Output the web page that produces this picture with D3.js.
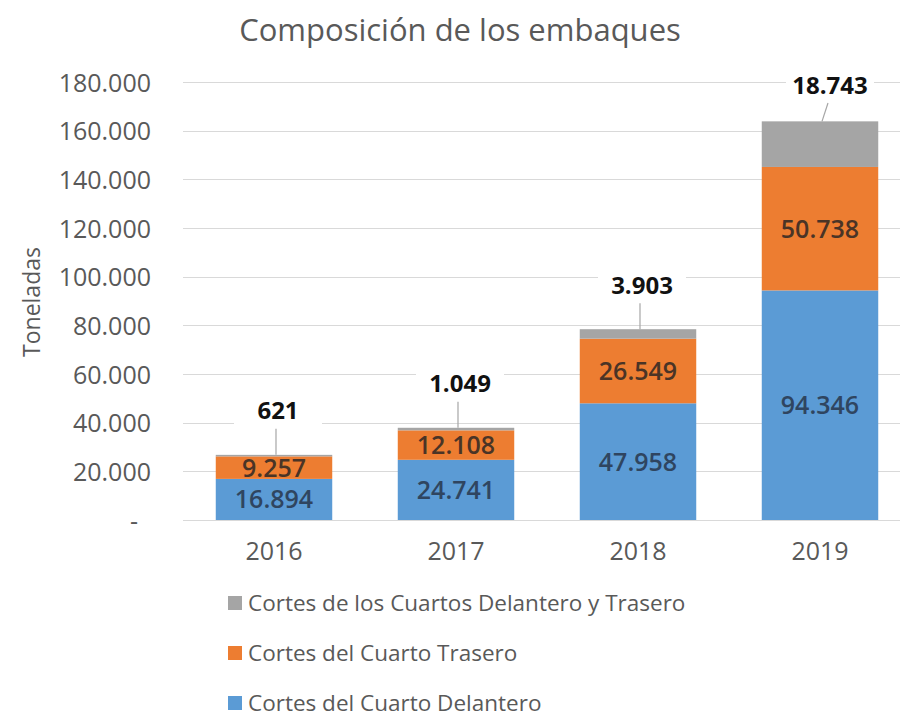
<!DOCTYPE html>
<html>
<head>
<meta charset="utf-8">
<script src="https://cdn.jsdelivr.net/npm/d3@7"></script>
<style>
  body { margin: 0; background: #fff; }
  svg { font-family: "Open Sans", sans-serif; display: block; }
</style>
</head>
<body>
<svg id="chart" width="900" height="721"></svg>
<script>
/* ── Data ───────────────────────────────────────────── */
const years      = ['2016', '2017', '2018', '2019'];
const delantero  = [16894, 24741, 47958, 94346];
const trasero    = [9257, 12108, 26549, 50738];
const ambos      = [621, 1049, 3903, 18743];
const seriesKeys = ['delantero', 'trasero', 'ambos'];
const seriesNames = ['Cortes del Cuarto Delantero', 'Cortes del Cuarto Trasero', 'Cortes de los Cuartos Delantero y Trasero'];
const yTicks     = [0, 20000, 40000, 60000, 80000, 100000, 120000, 140000, 160000, 180000];

const colors = { delantero: '#5B9BD5', trasero: '#ED7D31', ambos: '#A5A5A5' };
const inner  = { delantero: '#2f4560', trasero: '#4a3426' };

const rows = years.map((y, i) => ({ year: y, delantero: delantero[i], trasero: trasero[i], ambos: ambos[i] }));

const loc = d3.formatLocale({ decimal: ',', thousands: '.', grouping: [3], currency: ['', ''] });
const fmt = loc.format(',d');

/* ── Layout ─────────────────────────────────────────── */
const svg = d3.select('#chart');
const m = { left: 183, right: 911, top: 82, bottom: 520 };

const x = d3.scaleBand().domain(years).range([m.left, m.right]).paddingInner(0.36).paddingOuter(0.18);
const y = d3.scaleLinear().domain([0, 180000]).range([m.bottom, m.top]);

// title
svg.append('text')
  .attr('x', 460).attr('y', 41)
  .attr('text-anchor', 'middle')
  .attr('font-size', 31).attr('fill', '#595959')
  .text('Composición de los embaques');

// y label
svg.append('text')
  .attr('transform', 'translate(40,302) rotate(-90)')
  .attr('text-anchor', 'middle')
  .attr('font-size', 23).attr('fill', '#595959')
  .text('Toneladas');

// grid
svg.append('g').selectAll('line').data(yTicks).enter().append('line')
  .attr('x1', m.left).attr('x2', m.right)
  .attr('y1', d => Math.round(y(d)) + 0.5).attr('y2', d => Math.round(y(d)) + 0.5)
  .attr('stroke', '#d9d9d9').attr('stroke-width', 1);

// y axis
const yAxis = d3.axisLeft(y).tickValues(yTicks).tickSize(0).tickPadding(0)
  .tickFormat(d => d === 0 ? '-' : fmt(d));
svg.append('g').attr('transform', `translate(151,0)`).call(yAxis)
  .call(g => g.select('.domain').remove())
  .call(g => g.selectAll('text').attr('font-size', 25).attr('fill', '#595959')
    .attr('font-family', '"Open Sans", sans-serif').attr('dy', '0.36em')
    .attr('dx', d => d === 0 ? -13 : 0));

// x axis
const xAxis = d3.axisBottom(x).tickSize(0).tickPadding(22);
svg.append('g').attr('transform', `translate(0,${m.bottom})`).call(xAxis)
  .call(g => g.select('.domain').remove())
  .call(g => g.selectAll('text').attr('font-size', 25).attr('fill', '#595959')
    .attr('font-family', '"Open Sans", sans-serif'));

// stacked bars
const stack = d3.stack().keys(seriesKeys)(rows);
const layers = svg.append('g').selectAll('g').data(stack).enter().append('g')
  .attr('fill', d => colors[d.key]);

layers.selectAll('rect').data(d => d.map(v => Object.assign({ key: d.key }, v))).enter().append('rect')
  .attr('x', d => x(d.data.year))
  .attr('width', x.bandwidth())
  .attr('y', d => y(d[1]))
  .attr('height', d => y(d[0]) - y(d[1]));

// inner labels
stack.filter(s => s.key !== 'ambos').forEach(s => {
  svg.append('g').selectAll('text').data(s).enter().append('text')
    .attr('x', d => x(d.data.year) + x.bandwidth() / 2)
    .attr('y', d => (y(d[0]) + y(d[1])) / 2)
    .attr('dy', '0.36em')
    .attr('text-anchor', 'middle')
    .attr('font-size', 25).attr('font-weight', 600)
    .attr('fill', inner[s.key])
    .text(d => fmt(d.data[s.key]));
});

// outer labels with leader lines
const topLayer = stack[stack.length - 1];
const clamped = d => y(d[1]) - 45 < y(180000);
const labelY = d => Math.max(y(d[1]) - 44, y(180000) + 3);
const labelX = d => x(d.data.year) + x.bandwidth() / 2 + (clamped(d) ? 10 : 4);
const outer = svg.append('g').selectAll('g').data(topLayer).enter().append('g');

outer.append('line')
  .attr('x1', d => x(d.data.year) + x.bandwidth() / 2 + 2)
  .attr('x2', d => x(d.data.year) + x.bandwidth() / 2 + (clamped(d) ? 8 : 2))
  .attr('y1', d => y(d[1]))
  .attr('y2', d => labelY(d) + 18)
  .attr('stroke', '#a6a6a6').attr('stroke-width', 1.2);

outer.append('rect')
  .attr('x', d => labelX(d) - 44)
  .attr('y', d => labelY(d) - 15)
  .attr('width', 88).attr('height', 30)
  .attr('fill', '#fff');

outer.append('text')
  .attr('x', labelX)
  .attr('y', labelY)
  .attr('dy', '0.36em')
  .attr('text-anchor', 'middle')
  .attr('font-size', 24).attr('font-weight', 700)
  .attr('fill', '#111')
  .text(d => fmt(d.data.ambos));

// legend
const legendOrder = [2, 1, 0];
const lg = svg.append('g').selectAll('g').data(legendOrder).enter().append('g')
  .attr('transform', (d, i) => `translate(228,${603 + i * 50})`);
lg.append('rect').attr('x', 0).attr('y', -7).attr('width', 14).attr('height', 14)
  .attr('fill', d => colors[seriesKeys[d]]);
lg.append('text').attr('x', 20).attr('dy', '0.36em')
  .attr('font-size', 22.5).attr('fill', '#595959')
  .text(d => seriesNames[d]);
</script>
</body>
</html>
